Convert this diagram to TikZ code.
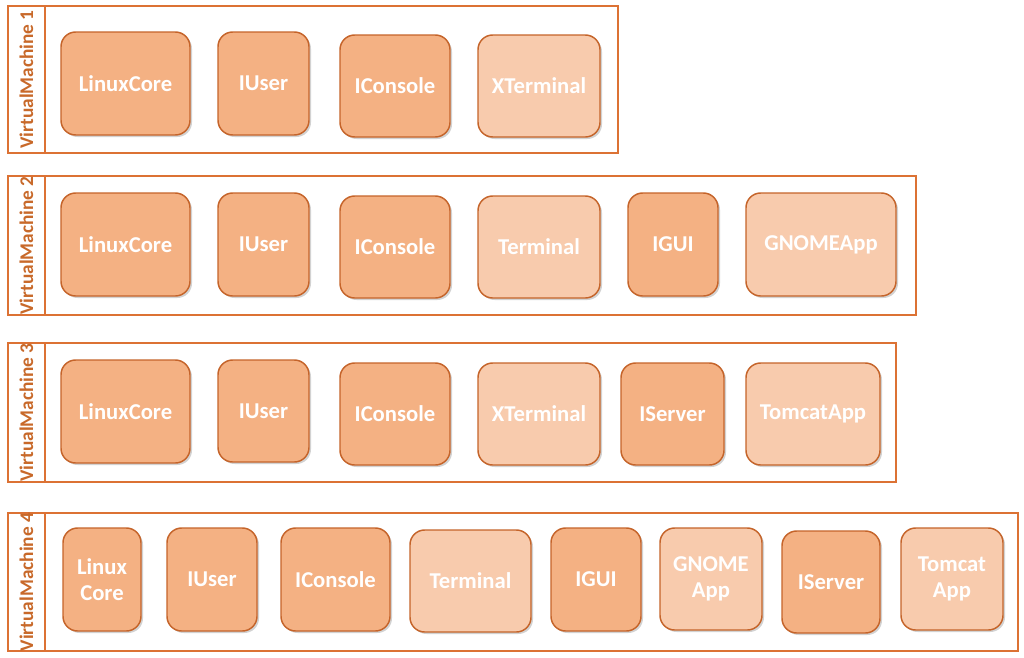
\documentclass[tikz,border=0pt]{standalone}
\usepackage{fontspec}
\setmainfont{Carlito}
\usetikzlibrary{fit,shadows}
\definecolor{darkfill}{HTML}{F4B183}
\definecolor{lightfill}{HTML}{F8CBAD}
\definecolor{boxline}{HTML}{C5642A}
\definecolor{frameline}{HTML}{DC7234}
\definecolor{labelcol}{HTML}{C8692A}
\tikzset{
  frame/.style={draw=frameline, line width=1.1pt, inner sep=0pt, fill=white},
  strip/.style={draw=frameline, line width=1.1pt, inner sep=0pt},
  vmlabel/.style={rotate=90, text=labelcol, font=\bfseries\fontsize{14.5}{17}\selectfont},
  boxtext/.style={text=white, font=\bfseries\fontsize{17}{20}\selectfont, align=center, inner sep=0pt},
  basebox/.style={draw=boxline, line width=1.1pt, rounded corners=11pt, inner sep=0pt,
    drop shadow={opacity=0.35, shadow xshift=1.5pt, shadow yshift=-1.5pt}},
  dbox/.style={basebox, fill=darkfill},
  lbox/.style={basebox, fill=lightfill},
}
\begin{document}
\begin{tikzpicture}[x=0.75pt, y=-0.75pt]
\useasboundingbox (0,0) rectangle (1024,657);
% VM1
\node[frame, fit={(8,6)(618,153)}] (vm1) {};
\node[strip, fit={(8,6)(45,153)}] (vm1s) {};
\node[vmlabel] (vm1l) at (vm1s.center) {VirtualMachine 1};
\node[dbox, fit={(61,32)(190,135)}, label={[boxtext]center:LinuxCore}] (a1) {};
\node[dbox, fit={(218,32)(309,135)}, label={[boxtext]center:IUser}] (a2) {};
\node[dbox, fit={(340,35)(450,137)}, label={[boxtext]center:IConsole}] (a3) {};
\node[lbox, fit={(478,35)(600,137)}, label={[boxtext]center:XTerminal}] (a4) {};
% VM2
\node[frame, fit={(8,176)(916,315)}] (vm2) {};
\node[strip, fit={(8,176)(45,315)}] (vm2s) {};
\node[vmlabel] (vm2l) at (vm2s.center) {VirtualMachine 2};
\node[dbox, fit={(61,193)(190,296)}, label={[boxtext]center:LinuxCore}] (b1) {};
\node[dbox, fit={(218,193)(309,296)}, label={[boxtext]center:IUser}] (b2) {};
\node[dbox, fit={(340,196)(450,298)}, label={[boxtext]center:IConsole}] (b3) {};
\node[lbox, fit={(478,196)(600,298)}, label={[boxtext]center:Terminal}] (b4) {};
\node[dbox, fit={(628,193)(718,296)}, label={[boxtext]center:IGUI}] (b5) {};
\node[lbox, fit={(746,193)(896,296)}, label={[boxtext]center:GNOMEApp}] (b6) {};
% VM3
\node[frame, fit={(8,343)(896,482)}] (vm3) {};
\node[strip, fit={(8,343)(45,482)}] (vm3s) {};
\node[vmlabel] (vm3l) at (vm3s.center) {VirtualMachine 3};
\node[dbox, fit={(61,360)(190,463)}, label={[boxtext]center:LinuxCore}] (c1) {};
\node[dbox, fit={(218,360)(309,462)}, label={[boxtext]center:IUser}] (c2) {};
\node[dbox, fit={(340,363)(450,465)}, label={[boxtext]center:IConsole}] (c3) {};
\node[lbox, fit={(478,363)(600,465)}, label={[boxtext]center:XTerminal}] (c4) {};
\node[dbox, fit={(621,363)(724,465)}, label={[boxtext]center:IServer}] (c5) {};
\node[lbox, fit={(746,363)(880,465)}, label={[boxtext]center:TomcatApp}] (c6) {};
% VM4
\node[frame, fit={(8,513)(1018,651)}] (vm4) {};
\node[strip, fit={(8,513)(45,651)}] (vm4s) {};
\node[vmlabel] (vm4l) at (vm4s.center) {VirtualMachine 4};
\node[dbox, fit={(63,528)(141,631)}, label={[boxtext]center:Linux\\Core}] (d1) {};
\node[dbox, fit={(167,528)(257,631)}, label={[boxtext]center:IUser}] (d2) {};
\node[dbox, fit={(281,528)(390,631)}, label={[boxtext]center:IConsole}] (d3) {};
\node[lbox, fit={(410,530)(531,632)}, label={[boxtext]center:Terminal}] (d4) {};
\node[dbox, fit={(551,528)(641,631)}, label={[boxtext]center:IGUI}] (d5) {};
\node[lbox, fit={(660,528)(762,630)}, label={[boxtext]center:GNOME\\App}] (d6) {};
\node[dbox, fit={(782,531)(880,633)}, label={[boxtext]center:IServer}] (d7) {};
\node[lbox, fit={(901,528)(1003,630)}, label={[boxtext]center:Tomcat\\App}] (d8) {};
\end{tikzpicture}
\end{document}
